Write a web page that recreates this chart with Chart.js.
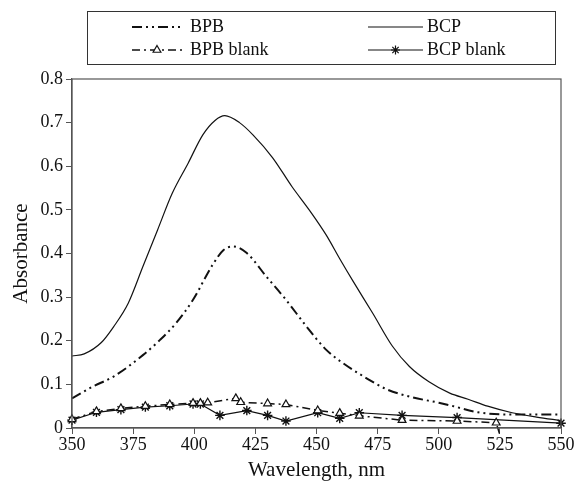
<!DOCTYPE html>
<html>
<head>
<meta charset="utf-8">
<script src="https://cdn.jsdelivr.net/npm/chart.js@4/dist/chart.umd.min.js"></script>
<style>
  html, body { margin: 0; padding: 0; background: #fff; }
  #wrap { width: 578px; height: 483px; }
</style>
</head>
<body>
<div id="wrap"><canvas id="grafico"></canvas></div>
<script>
// valori (lunghezza d'onda in nm, assorbanza)
const seriesNames = ['BPB', 'BCP', 'BPB blank', 'BCP blank'];

const bpbWl  = [350, 358.5, 367, 379, 386, 392.5, 399.5, 407.5, 412, 416, 421.5, 429.5, 437.5, 446, 454, 461, 470.5, 479, 489.5, 500, 506, 516, 530, 550];
const bpbAbs = [0.068, 0.095, 0.118, 0.167, 0.202, 0.240, 0.294, 0.374, 0.408, 0.416, 0.401, 0.347, 0.294, 0.232, 0.179, 0.148, 0.114, 0.088, 0.070, 0.058, 0.050, 0.036, 0.031, 0.031];

const bcpWl  = [350, 355, 362, 367, 373, 379, 385, 391, 397.5, 403.5, 408.5, 412.5, 418.5, 424, 432, 440, 447, 454, 459.5, 465, 473, 481, 488, 496, 504.5, 512, 520, 530, 540, 550];
const bcpAbs = [0.165, 0.170, 0.196, 0.232, 0.286, 0.370, 0.454, 0.538, 0.607, 0.672, 0.705, 0.716, 0.700, 0.672, 0.620, 0.553, 0.500, 0.442, 0.388, 0.336, 0.263, 0.188, 0.141, 0.106, 0.080, 0.066, 0.050, 0.035, 0.025, 0.017];

const bpbBlankWl  = [350, 360, 370, 380, 390, 399.5, 402.5, 405.5, 417, 419, 430, 437.5, 450.5, 459.5, 467.5, 485, 507.5, 523.5, 525];
const bpbBlankAbs = [0.020, 0.038, 0.045, 0.050, 0.054, 0.057, 0.057, 0.058, 0.068, 0.059, 0.056, 0.054, 0.040, 0.034, 0.028, 0.018, 0.016, 0.012, -0.016];

const bcpBlankWl  = [350, 360, 370, 380, 390, 399.5, 402.5, 410.5, 421.5, 430, 437.5, 450.5, 459.5, 467.5, 485, 507.5, 550];
const bcpBlankAbs = [0.018, 0.036, 0.042, 0.048, 0.051, 0.055, 0.055, 0.029, 0.040, 0.029, 0.016, 0.035, 0.022, 0.035, 0.029, 0.024, 0.011];

const xTicks = [350, 375, 400, 425, 450, 475, 500, 525, 550];
const yTicks = [0, 0.1, 0.2, 0.3, 0.4, 0.5, 0.6, 0.7, 0.8];

const FONT = '"Liberation Serif", "Times New Roman", serif';
const NERO = '#111';

function punti(wl, abs) {
    return wl.map((x, i) => ({ x: x, y: abs[i] }));
}

// cornice attorno all'area del grafico + legenda in riquadro (2 colonne)
const cornicePlugin = {
    id: 'cornice',
    afterDraw(chart) {
        const ctx = chart.ctx;
        const a = chart.chartArea;
        ctx.save();
        ctx.strokeStyle = '#555';
        ctx.lineWidth = 1.2;
        ctx.setLineDash([]);
        ctx.strokeRect(a.left, a.top, a.right - a.left, a.bottom - a.top);

        ctx.strokeStyle = '#333';
        ctx.lineWidth = 1;
        ctx.strokeRect(87.5, 11.5, 468, 53);

        const pos = [
            { x1: 132, x2: 182, tx: 190, y: 27 },
            { x1: 368, x2: 423, tx: 427, y: 27 },
            { x1: 132, x2: 182, tx: 190, y: 50 },
            { x1: 368, x2: 423, tx: 427, y: 50 }
        ];
        chart.data.datasets.forEach((ds, i) => {
            const p = pos[i];
            ctx.strokeStyle = NERO;
            ctx.lineWidth = ds.borderWidth;
            ctx.setLineDash(ds.borderDash || []);
            ctx.beginPath();
            ctx.moveTo(p.x1, p.y);
            ctx.lineTo(p.x2, p.y);
            ctx.stroke();
            ctx.setLineDash([]);
            if (ds.legendMarker) {
                ctx.fillStyle = '#fff';
                ctx.strokeStyle = NERO;
                ctx.lineWidth = 1.2;
                Chart.helpers.drawPoint(ctx, { pointStyle: ds.pointStyle, radius: 4.5, borderWidth: 1.2, rotation: 0 }, (p.x1 + p.x2) / 2, p.y);
            }
            ctx.fillStyle = NERO;
            ctx.font = '18px ' + FONT;
            ctx.textBaseline = 'middle';
            ctx.textAlign = 'left';
            ctx.fillText(ds.label, p.tx, p.y);
        });
        ctx.restore();
    }
};

new Chart(document.getElementById('grafico'), {
    type: 'line',
    data: {
        datasets: [
            {
                label: seriesNames[0],
                data: punti(bpbWl, bpbAbs),
                borderColor: NERO,
                borderWidth: 2,
                borderDash: [10, 4, 2, 4, 2, 4],
                pointRadius: 0,
                cubicInterpolationMode: 'monotone',
                fill: false
            },
            {
                label: seriesNames[1],
                data: punti(bcpWl, bcpAbs),
                borderColor: NERO,
                borderWidth: 1.2,
                pointRadius: 0,
                cubicInterpolationMode: 'monotone',
                fill: false
            },
            {
                label: seriesNames[2],
                data: punti(bpbBlankWl, bpbBlankAbs),
                borderColor: NERO,
                borderWidth: 1.5,
                borderDash: [8, 4, 2, 4],
                pointStyle: 'triangle',
                pointRadius: bpbBlankWl.map((_, i) => i === bpbBlankWl.length - 1 ? 0 : 4.5),
                pointBorderWidth: 1.2,
                pointBorderColor: NERO,
                pointBackgroundColor: '#fff',
                tension: 0,
                fill: false,
                clip: false,
                legendMarker: true
            },
            {
                label: seriesNames[3],
                data: punti(bcpBlankWl, bcpBlankAbs),
                borderColor: NERO,
                borderWidth: 1.2,
                pointStyle: 'star',
                pointRadius: 4.8,
                pointBorderWidth: 1.4,
                pointBorderColor: NERO,
                pointBackgroundColor: NERO,
                tension: 0,
                fill: false,
                clip: false,
                legendMarker: true
            }
        ]
    },
    options: {
        responsive: true,
        maintainAspectRatio: false,
        animation: false,
        layout: { padding: { top: 79, right: 17, left: 0, bottom: 0 } },
        plugins: {
            legend: { display: false },
            tooltip: { enabled: false }
        },
        scales: {
            x: {
                type: 'linear',
                min: 350,
                max: 550,
                afterFit: s => { s.height = 55; },
                afterBuildTicks: s => { s.ticks = xTicks.map(v => ({ value: v })); },
                border: { display: true, color: '#555', width: 1.2 },
                grid: { display: true, drawOnChartArea: false, drawTicks: true, tickLength: 6, color: '#555' },
                ticks: { color: NERO, font: { family: FONT, size: 18 }, padding: 0, maxRotation: 0 },
                title: { display: true, text: 'Wavelength, nm', color: NERO, font: { family: FONT, size: 21 }, padding: { top: 0, bottom: 0 } }
            },
            y: {
                min: 0,
                max: 0.8,
                afterFit: s => { s.width = 72; },
                afterBuildTicks: s => { s.ticks = yTicks.map(v => ({ value: v })); },
                border: { display: true, color: '#555', width: 1.2 },
                grid: { display: true, drawOnChartArea: false, drawTicks: true, tickLength: 6, color: '#555' },
                ticks: {
                    color: NERO,
                    font: { family: FONT, size: 18 },
                    padding: 3,
                    callback: v => v === 0 ? '0' : v.toFixed(1)
                },
                title: { display: true, text: 'Absorbance', color: NERO, font: { family: FONT, size: 21 }, padding: { top: 9, bottom: 0 } }
            }
        }
    },
    plugins: [cornicePlugin]
});
</script>
</body>
</html>
